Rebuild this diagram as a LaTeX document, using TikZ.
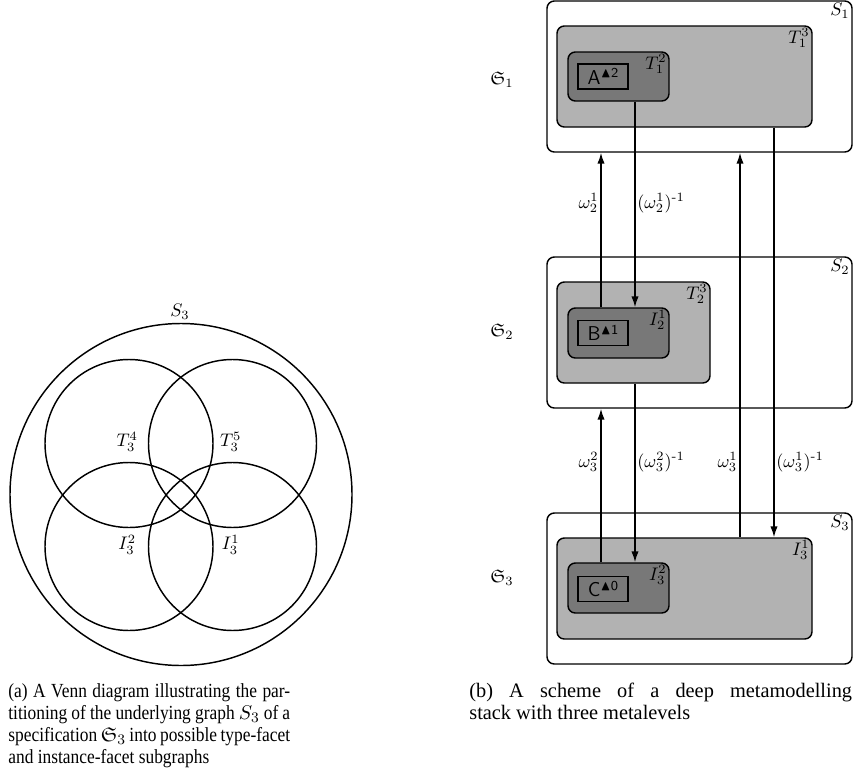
\documentclass[tikz,border=0pt]{standalone}
\usepackage{amsmath,amssymb}
\usepackage{fontspec}
\newfontfamily\capafont[FakeStretch=0.87]{Liberation Serif}
\newfontfamily\capbfont[FakeStretch=0.99]{Liberation Serif}
\usetikzlibrary{arrows.meta,fit}
\begin{document}
\begin{tikzpicture}[x=0.55pt,y=-0.55pt,
  every node/.style={inner sep=0pt},
  frame/.style={draw, line width=0.8pt, rounded corners=4pt, inner sep=0pt},
  outerbox/.style={frame, fill=white},
  lightbox/.style={frame, fill=black!30},
  darkbox/.style={frame, fill=black!53},
  elembox/.style={draw, line width=0.8pt, inner sep=0pt, minimum width=27.5pt, minimum height=13.75pt, font=\sffamily\fontsize{11}{12}\selectfont},
  arr/.style={line width=0.8pt, -{Latex[length=6pt,width=4pt]}},
  venn/.style={circle, draw, line width=0.8pt, inner sep=0pt, minimum size=92.4pt},
  boxlabel/.style={anchor=north east, inner sep=1.5pt},
  caption/.style={anchor=north west, align=left}
]
\newcommand{\elab}[2]{#1\raisebox{0.75ex}{\fontsize{7.5}{8}\selectfont$\blacktriangle$#2}}
\newcommand{\capline}[2]{\makebox[#1][s]{#2}}
\useasboundingbox (0,0) rectangle (853,775);

% ---------- Venn diagram ----------
\node[circle, draw, line width=0.8pt, minimum size=188.1pt] (S3c) at (181,494.5) {};
\node (S3lab) at (180,312) {$S_3$};
\node[venn] (UL) at (129,443.5) {};
\node[venn] (UR) at (232.5,443.5) {};
\node[venn] (LL) at (129,546.5) {};
\node[venn] (LR) at (232.5,546.5) {};
\node (T34) at ([xshift=-1pt,yshift=1pt]UL.center) {$T_3^4$};
\node (T35) at ([xshift=-1pt,yshift=1pt]UR.center) {$T_3^5$};
\node (I32) at ([xshift=-1pt,yshift=1pt]LL.center) {$I_3^2$};
\node (I31v) at ([xshift=-1pt,yshift=1pt]LR.center) {$I_3^1$};

% ---------- Level 1 ----------
\node[outerbox, fit={(547,1)(852,152)}] (S1) {};
\node[boxlabel] (S1lab) at (S1.north east) {$S_1$};
\node[lightbox, fit={(557,26)(812,127)}] (T13) {};
\node[boxlabel] (T13lab) at (T13.north east) {$T_1^3$};
\node[darkbox, fit={(568,52)(669,101)}] (T12) {};
\node[boxlabel] (T12lab) at (T12.north east) {$T_1^2$};
\node[elembox] (A) at (603,76.5) {\elab{A}{2}};

% ---------- Level 2 ----------
\node[outerbox, fit={(547,257)(852,408)}] (S2) {};
\node[boxlabel] (S2lab) at (S2.north east) {$S_2$};
\node[lightbox, fit={(557,282)(710,383)}] (T23) {};
\node[boxlabel] (T23lab) at (T23.north east) {$T_2^3$};
\node[darkbox, fit={(568,308)(669,358)}] (I21) {};
\node[boxlabel] (I21lab) at (I21.north east) {$I_2^1$};
\node[elembox] (B) at (603,333) {\elab{B}{1}};

% ---------- Level 3 ----------
\node[outerbox, fit={(547,513)(852,664)}] (S3) {};
\node[boxlabel] (S3blab) at (S3.north east) {$S_3$};
\node[lightbox, fit={(557,538)(812,639)}] (I31) {};
\node[boxlabel] (I31lab) at (I31.north east) {$I_3^1$};
\node[darkbox, fit={(568,563)(669,613)}] (I32b) {};
\node[boxlabel] (I32lab) at (I32b.north east) {$I_3^2$};
\node[elembox] (C) at (603,589) {\elab{C}{0}};

% ---------- level names ----------
\node (L1) at (502,80) {$\mathfrak{S}_1$};
\node (L2) at (502,332) {$\mathfrak{S}_2$};
\node (L3) at (502,578) {$\mathfrak{S}_3$};

% ---------- connectors ----------
\coordinate (xa) at (601,0);
\coordinate (xb) at (635,0);
\coordinate (xc) at (740,0);
\coordinate (xd) at (774,0);
\draw[arr] (I21.north -| xa) -- (S1.south -| xa);
\draw[arr] (T12.south -| xb) -- (I21.north -| xb);
\draw[arr] (I32b.north -| xa) -- (S2.south -| xa);
\draw[arr] (T23.south -| xb) -- (I32b.north -| xb);
\draw[arr] (I31.north -| xc) -- (S1.south -| xc);
\draw[arr] (T13.south -| xd) -- (I31.north -| xd);

\node[anchor=east] (w21) at (599,203) {$\omega^{1}_{2}$};
\node[anchor=west] (w21i) at (637,203) {$(\omega^{1}_{2})^{\text{-1}}$};
\node[anchor=east] (w32) at (599,462) {$\omega^{2}_{3}$};
\node[anchor=west] (w32i) at (637,462) {$(\omega^{2}_{3})^{\text{-1}}$};
\node[anchor=east] (w31) at (738,462) {$\omega^{1}_{3}$};
\node[anchor=west] (w31i) at (776,462) {$(\omega^{1}_{3})^{\text{-1}}$};

% ---------- captions ----------
\node[caption, font=\capafont\fontsize{11}{12.1}\selectfont] (capa) at (8,683) {\capline{155pt}{(a) A Venn diagram illustrating the par-}\\
\capline{155pt}{titioning of the underlying graph $S_3$ of a}\\
\capline{155pt}{specification $\mathfrak{S}_3$ into possible type-facet}\\
and instance-facet subgraphs};
\node[caption, font=\capbfont\fontsize{11.3}{12.1}\selectfont] (capb) at (469,683) {\capline{210.5pt}{(b) A scheme of a deep metamodelling}\\
stack with three metalevels};
\end{tikzpicture}
\end{document}
